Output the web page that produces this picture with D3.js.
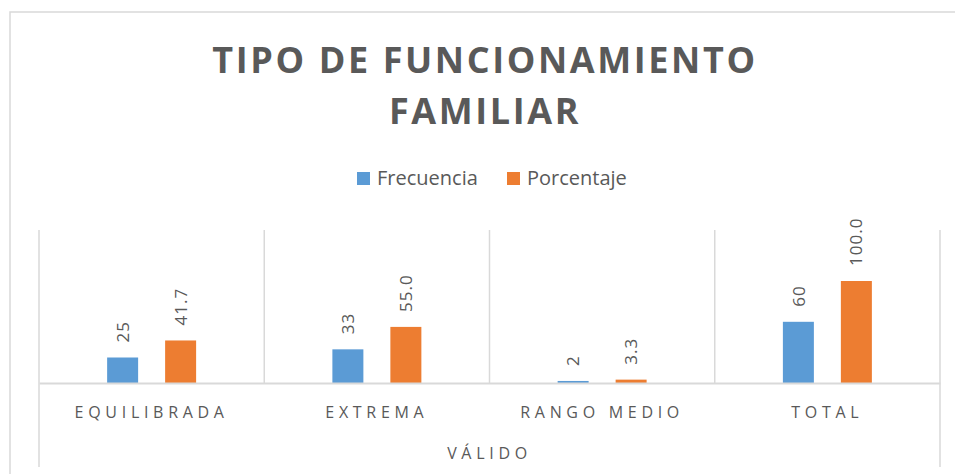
<!DOCTYPE html>
<html>
<head>
<meta charset="utf-8">
<script src="https://cdn.jsdelivr.net/npm/d3@7"></script>
<style>
  html, body { margin: 0; padding: 0; background: #fff; }
  svg { display: block; }
</style>
</head>
<body>
<svg id="chart" width="955" height="474"></svg>
<script>
// ---- data ----
const titleLines = ["TIPO DE FUNCIONAMIENTO", "FAMILIAR"];
const categories = ["EQUILIBRADA", "EXTREMA", "RANGO MEDIO", "TOTAL"];
const groupLabel = "VÁLIDO";
const seriesNames = ["Frecuencia", "Porcentaje"];
const frecuencia = [25, 33, 2, 60];
const porcentaje = [41.7, 55.0, 3.3, 100.0];
const seriesColors = ["#5B9BD5", "#ED7D31"];
const seriesFormats = [d3.format("d"), d3.format(".1f")];

// ---- layout ----
const W = 955, H = 474;
const plot = { left: 39, right: 940, top: 230, bottom: 383, axisBottom: 467 };
const textColor = "#595959";
const gridColor = "#d9d9d9";
const font = "'Open Sans', 'Noto Sans', sans-serif";

const svg = d3.select("#chart");

// chart area border
svg.append("rect")
  .attr("x", 10).attr("y", 12)
  .attr("width", W + 20).attr("height", H + 20)
  .attr("fill", "#fff")
  .attr("stroke", gridColor).attr("stroke-width", 1.5);

// title
svg.append("g").selectAll("text").data(titleLines).join("text")
  .attr("x", 485)
  .attr("y", (d, i) => 73 + i * 51)
  .attr("text-anchor", "middle")
  .attr("font-family", font)
  .attr("font-weight", 700)
  .attr("font-size", 36)
  .attr("letter-spacing", 2.6)
  .attr("fill", textColor)
  .text(d => d);

// legend
const legendItems = [
  { name: seriesNames[0], color: seriesColors[0], x: 357 },
  { name: seriesNames[1], color: seriesColors[1], x: 507 }
];
const lg = svg.append("g");
lg.selectAll("rect").data(legendItems).join("rect")
  .attr("x", d => d.x).attr("y", 172)
  .attr("width", 13).attr("height", 13)
  .attr("fill", d => d.color);
lg.selectAll("text").data(legendItems).join("text")
  .attr("x", d => d.x + 20).attr("y", 185)
  .attr("font-family", font)
  .attr("font-size", 20)
  .attr("fill", textColor)
  .text(d => d.name);

// scales
const x = d3.scaleBand().domain(categories).range([plot.left, plot.right]).padding(0);
const x1 = d3.scaleBand().domain(seriesNames).range([0, x.bandwidth()])
  .paddingInner(0.4655).paddingOuter(1.175);
const y = d3.scaleLinear().domain([0, 150]).range([plot.bottom, plot.top]);

// vertical gridlines between categories
const bounds = categories.map(c => x(c)).concat([plot.right]);
svg.append("g").selectAll("line").data(bounds).join("line")
  .attr("x1", d => d).attr("x2", d => d)
  .attr("y1", plot.top)
  .attr("y2", (d, i) => (i === 0 || i === bounds.length - 1) ? plot.axisBottom : plot.bottom)
  .attr("stroke", gridColor).attr("stroke-width", 1.5);

// bars
const seriesData = [frecuencia, porcentaje];
const rows = [];
seriesData.forEach((vals, s) => vals.forEach((v, i) => rows.push({ cat: categories[i], s, v })));

svg.append("g").selectAll("rect").data(rows).join("rect")
  .attr("x", d => x(d.cat) + x1(seriesNames[d.s]))
  .attr("y", d => y(d.v))
  .attr("width", x1.bandwidth())
  .attr("height", d => y(0) - y(d.v))
  .attr("fill", d => seriesColors[d.s]);

// value labels (rotated)
svg.append("g").selectAll("text").data(rows).join("text")
  .attr("transform", d => `translate(${x(d.cat) + x1(seriesNames[d.s]) + x1.bandwidth() / 2},${y(d.v) - 15}) rotate(-90)`)
  .attr("dy", "0.36em")
  .attr("font-family", font)
  .attr("font-size", 17)
  .attr("letter-spacing", 1)
  .attr("fill", textColor)
  .text(d => seriesFormats[d.s](d.v));

// category axis
const xAxis = d3.axisBottom(x).tickSizeInner(0).tickSizeOuter(0).tickPadding(24);
const ax = svg.append("g").attr("transform", `translate(0,${plot.bottom})`).call(xAxis);
ax.select(".domain").attr("stroke", gridColor).attr("stroke-width", 2);
ax.selectAll(".tick text")
  .attr("font-family", font)
  .attr("font-size", 16)
  .attr("letter-spacing", 4.7)
  .attr("fill", textColor);

// group label
svg.append("text")
  .attr("x", (plot.left + plot.right) / 2)
  .attr("y", 459)
  .attr("text-anchor", "middle")
  .attr("font-family", font)
  .attr("font-size", 16)
  .attr("letter-spacing", 4.7)
  .attr("fill", textColor)
  .text(groupLabel);
</script>
</body>
</html>
